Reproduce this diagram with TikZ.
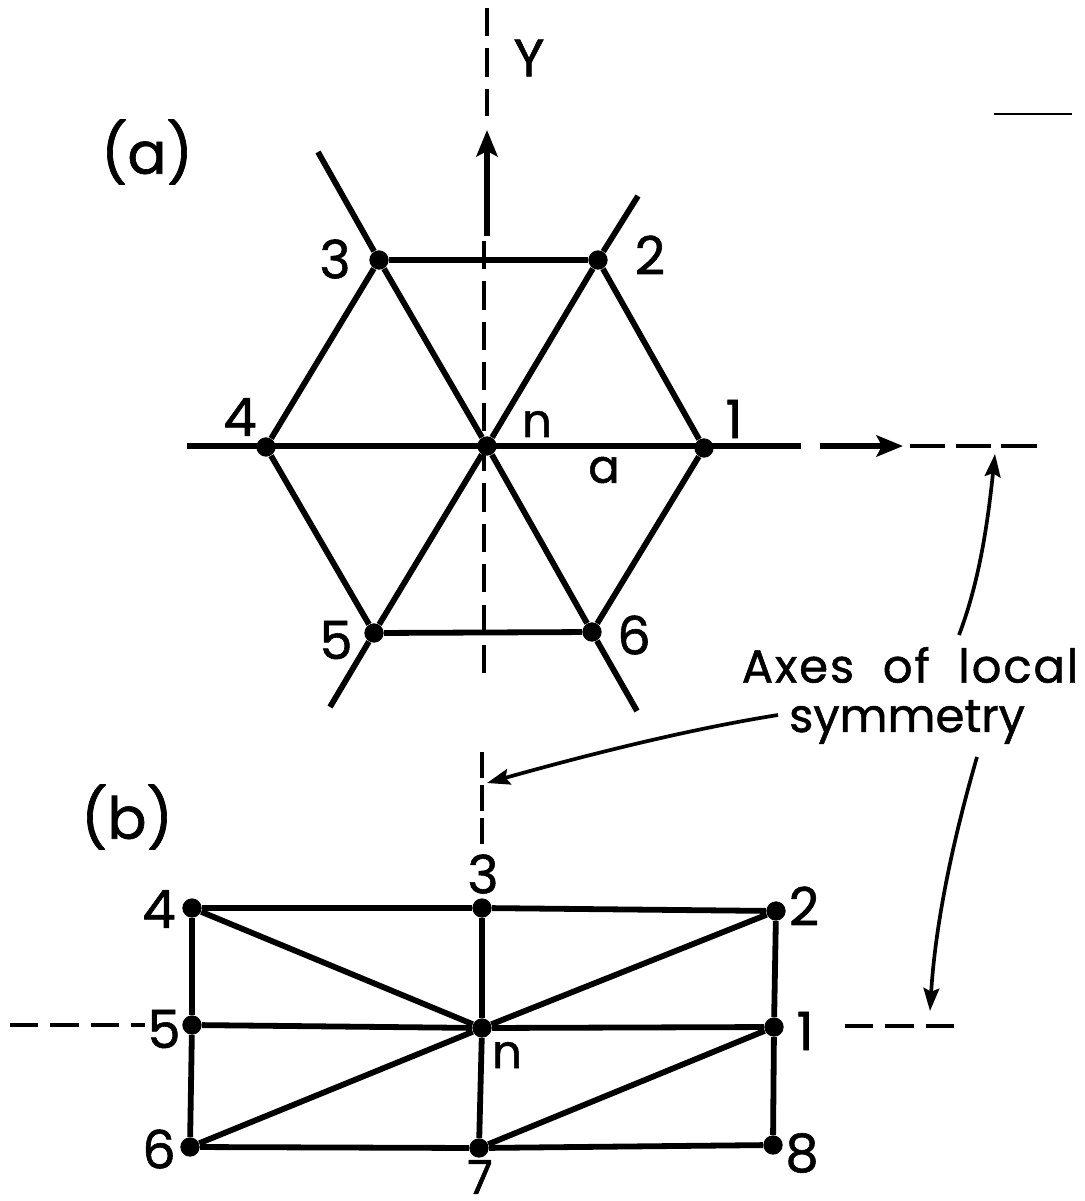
\documentclass[tikz,border=0pt]{standalone}
\usepackage{fontspec}
\setmainfont{Poppins}[FakeBold=1.1]
\usetikzlibrary{positioning,arrows.meta}

\begin{document}
\begin{tikzpicture}[
  x=0.02cm, y=-0.02cm,
  site/.style  = {circle, fill=black, inner sep=0pt, minimum size=11pt},
  lbl/.style   = {inner sep=0pt, font=\fontsize{30}{34}\selectfont},
  word/.style  = {inner sep=0pt, font=\fontsize{26.5}{30}\selectfont},
  bigl/.style  = {inner sep=0pt, font=\fontsize{33}{36}\selectfont},
  bond/.style  = {line width=3.3pt, black},
  axis/.style  = {line width=2.2pt, black, dash pattern=on 16pt off 7pt},
  seg/.style   = {line width=1.1pt, black},
  arr/.style   = {-{Stealth[length=15pt,width=12pt,inset=3pt]}, line width=3pt, black},
  lead/.style  = {-{Stealth[length=13pt,width=9pt,inset=2pt]}, line width=2.1pt, black}
]
  \useasboundingbox (0,0) rectangle (1085,1201);

  % part (a)
  \node[site] (n)  at (487,446) {};
  \node[site] (a1) at (704,448) {};
  \node[site] (a2) at (598,260) {};
  \node[site] (a3) at (379,260) {};
  \node[site] (a4) at (266,447) {};
  \node[site] (a5) at (374,633) {};
  \node[site] (a6) at (592,632) {};

  \coordinate (e2) at (638,196);
  \coordinate (e3) at (318,152);
  \coordinate (e5) at (330,707);
  \coordinate (e6) at (637,711);
  \coordinate (w)  at (187,446);
  \coordinate (e)  at (801,446);

  \foreach \a/\b in {a3/a2,a2/a1,a1/a6,a6/a5,a5/a4,a4/a3,a3/n,n/a6,a2/n,n/a5,w/e,a2/e2,a3/e3,a5/e5,a6/e6}{
    \draw[bond] (\a) -- (\b);
  }

  \coordinate (ytop) at (487,8);
  \coordinate (ymid) at (487,116);
  \coordinate (yarrb) at (487,236);
  \coordinate (yarrt) at (487,130);
  \coordinate (ylow) at (484,241);
  \coordinate (ybot) at (484,675);
  \draw[axis] (ytop) -- (ymid);
  \draw[arr] (yarrb) -- (yarrt);
  \draw[axis] (ylow) -- (ybot);

  \coordinate (xb) at (903,446);
  \coordinate (xc) at (910,446);
  \coordinate (xd) at (1039,446);
  \coordinate (xe) at (820,446);
  \draw[arr] (xe) -- (xb);
  \draw[axis, dash pattern=on 20pt off 6pt] (xc) -- (xd);

  \coordinate (ma) at (994,114);
  \coordinate (mb) at (1072,114);
  \draw[seg] (ma) -- (mb);

  % labels of (a)
  \node[bigl] (tagA) at (147,152) {(a)};
  \node[lbl] (tY) at (529,58) {Y};
  \node[lbl] (t1) at (734,419) {1};
  \node[lbl] (t2) at (650,255) {2};
  \node[lbl] (t3) at (335,259) {3};
  \node[lbl] (t4) at (240,417) {4};
  \node[lbl] (t5) at (336,640) {5};
  \node[lbl] (t6) at (634,635) {6};
  \node[word] (tn) at (537,424) {n};
  \node[word] (ta) at (604,470) {a};

  % part (b)
  \node[site] (m)  at (482,1028) {};
  \node[site] (b1) at (774,1027) {};
  \node[site] (b2) at (776,911) {};
  \node[site] (b3) at (482,908) {};
  \node[site] (b4) at (192,908) {};
  \node[site] (b5) at (192,1025) {};
  \node[site] (b6) at (190,1147) {};
  \node[site] (b7) at (479,1148) {};
  \node[site] (b8) at (773,1145) {};

  \foreach \a/\b in {b4/b3,b3/b2,b2/b1,b1/b8,b8/b7,b7/b6,b6/b5,b5/b4,b5/m,m/b1,b3/m,m/b7,b4/m,m/b2,b6/m,b7/b1}{
    \draw[bond] (\a) -- (\b);
  }

  \coordinate (vt) at (482,752);
  \coordinate (vb) at (482,846);
  \draw[axis, dash pattern=on 15pt off 3.8pt] (vt) -- (vb);

  \coordinate (la) at (10,1025);
  \coordinate (lb) at (145,1025);
  \coordinate (ra) at (845,1026);
  \coordinate (rb) at (958,1026);
  \draw[axis] (la) -- (lb);
  \draw[axis] (ra) -- (rb);

  % labels of (b)
  \node[bigl] (tagB) at (127,817) {(b)};
  \node[lbl] (u1) at (805,1031) {1};
  \node[lbl] (u2) at (804,906) {2};
  \node[lbl] (u3) at (483,874) {3};
  \node[lbl] (u4) at (159,909) {4};
  \node[lbl] (u5) at (164,1029) {5};
  \node[lbl] (u6) at (159,1149) {6};
  \node[word] (u7) at (480,1177) {7};
  \node[lbl] (u8) at (802,1153) {8};
  \node[word] (un) at (507,1055) {n};

  % leaders
  \node[word] (axes) at (910,665) {\addfontfeature{LetterSpace=4}Axes\ \ of\ \ local};
  \node[word] (sym) at (907,722) {symmetry};

  \coordinate (p1) at (959,635);
  \coordinate (q1) at (995,454);
  \coordinate (p2) at (778,715);
  \coordinate (q2) at (487,783);
  \coordinate (p3) at (977,757);
  \coordinate (q3) at (930,1011);
  \draw[lead] (p1) .. controls (980,580) and (988,520) .. (q1);
  \draw[lead] (p2) .. controls (690,729) and (590,754) .. (q2);
  \draw[lead] (p3) .. controls (950,850) and (935,930) .. (q3);
\end{tikzpicture}
\end{document}
